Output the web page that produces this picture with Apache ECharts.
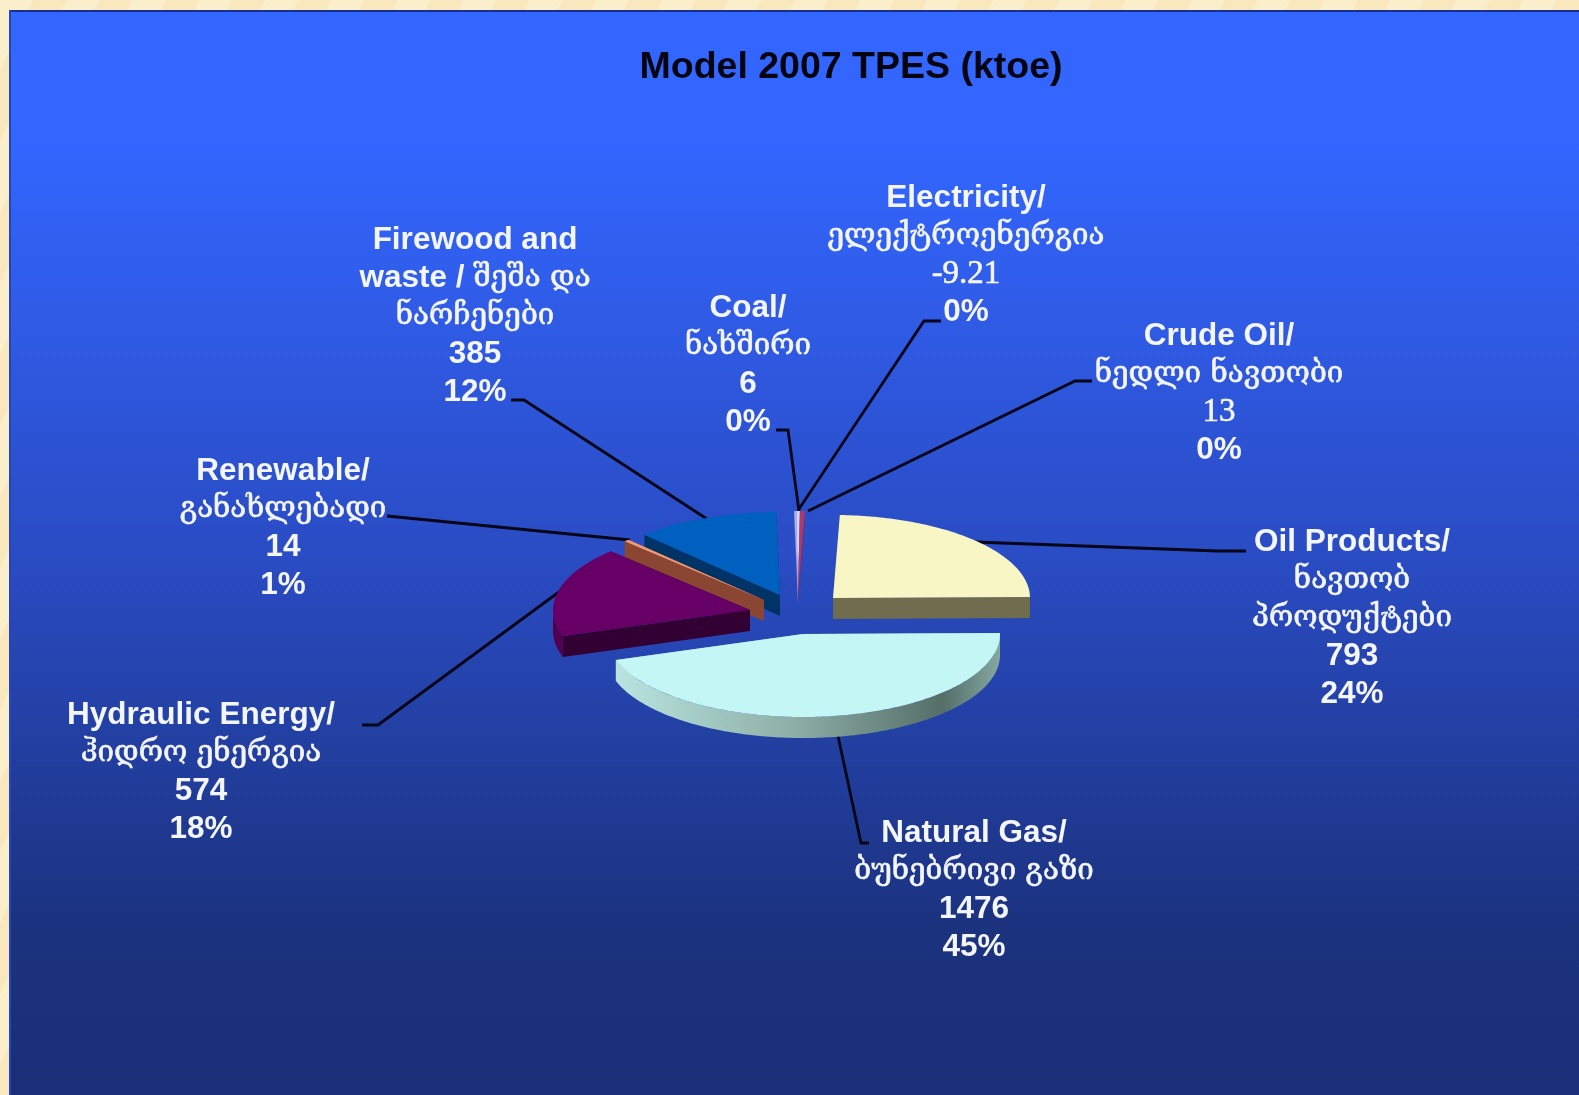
<!DOCTYPE html>
<html>
<head>
<meta charset="utf-8">
<style>
  html, body { margin: 0; height: 100%; overflow: hidden; }
  body { background: repeating-linear-gradient(115deg, #fbeecb 0 30px, #f9e8bd 30px 60px); }
  #chart { width: 1579px; height: 1095px; filter: blur(0.5px); }
</style>
<script src="https://cdn.jsdelivr.net/npm/echarts@6/dist/echarts.min.js"></script>
</head>
<body>
<div id="chart"></div>
<script>
// data
const categories = [
  'Oil Products/\nნავთობ\nპროდუქტები',
  'Natural Gas/\nბუნებრივი გაზი',
  'Hydraulic Energy/\nჰიდრო ენერგია',
  'Renewable/\nგანახლებადი',
  'Firewood and\nwaste / შეშა და\nნარჩენები',
  'Coal/\nნახშირი',
  'Electricity/\nელექტროენერგია',
  'Crude Oil/\nნედლი ნავთობი'
]
const values = [793, 1476, 574, 14, 385, 6, -9.21, 13]
const percents = [24, 45, 18, 1, 12, 0, 0, 0]

// layout: where each exploded slice and label sits
const apexes = [[833, 598], [803, 634], [750, 610], [764, 600], [780, 595], [798, 594], [798, 594], [798, 594]]
const depths = [21, 21, 21, 21, 21, 9, 9, 9]
const labelPos = [[1352, 618], [974, 890], [201, 772], [283, 528], [475, 316], [748, 365], [966, 255], [1219, 393]]
const leaders = [
  [[975, 542], [1218, 551], [1246, 551]],
  [[838, 736], [861, 843], [869, 843]],
  [[563, 589], [378, 725], [362, 725]],
  [[630, 540], [387, 516]],
  [[707, 519], [524, 400], [511, 400]],
  [[799, 511], [788, 430], [776, 430]],
  [[799, 509], [924, 321], [941, 321]],
  [[808, 511], [1075, 381], [1092, 381]]
]
const serifValue = [false, false, false, false, false, false, true, true]
const drawOrder = [5, 6, 7, 4, 3, 2, 0, 1]
const rx = 197
const ry = 83
const startAngle = 2

// colours
const topColors = ['#f8f6c4', '#c4f6f6', '#660066', '#f29a78', '#0060c0', '#b4b4ec', '#d4d4f6', '#a83a70']
const wallColors = ['#706c4e', '#8fb5ae', '#330033', '#8a4632', '#003366', '#8a8ac8', '#8a8ac8', '#802a58']
const gasArc = new echarts.graphic.LinearGradient(0, 0, 1, 0, [
  { offset: 0, color: '#b8e4e0' },
  { offset: 0.45, color: '#8fb0a8' },
  { offset: 0.85, color: '#546e68' },
  { offset: 1, color: '#86a8a2' }
])
const arcColors = ['#706c4e', gasArc, '#50004e', '#8a4632', '#003366', '#8a8ac8', '#8a8ac8', '#802a58']

const total = values.reduce((s, v) => s + Math.abs(v), 0)
const angles = []
let acc = startAngle
values.forEach(v => {
  const span = Math.abs(v) / total * 360
  angles.push([acc, acc + span])
  acc += span
})

function rimPoint(apex, deg, drop) {
  const r = deg * Math.PI / 180
  return [apex[0] + rx * Math.sin(r), apex[1] - ry * Math.cos(r) + (drop || 0)]
}

function arcPoints(apex, a0, a1, drop) {
  const pts = []
  const steps = Math.max(2, Math.ceil(a1 - a0))
  for (let k = 0; k <= steps; k++) {
    pts.push(rimPoint(apex, a0 + (a1 - a0) * k / steps, drop))
  }
  return pts
}

function renderSlice(params, api) {
  const i = api.value(0)
  const apex = apexes[i]
  const d = depths[i]
  const a0 = angles[i][0]
  const a1 = angles[i][1]
  const low = [apex[0], apex[1] + d]
  const children = []
  // radial walls, the top face hides whichever one looks away
  ;[a0, a1].forEach(a => {
    const out = rimPoint(apex, a)
    const outLow = rimPoint(apex, a, d)
    children.push({ type: 'polygon', shape: { points: [apex, out, outLow, low] }, style: { fill: wallColors[i] } })
  })
  // outer wall, only the front half of the ellipse
  const f0 = Math.max(a0, 90)
  const f1 = Math.min(a1, 270)
  if (f1 > f0) {
    const pts = arcPoints(apex, f0, f1, 0).concat(arcPoints(apex, f0, f1, d).reverse())
    children.push({ type: 'polygon', shape: { points: pts }, style: { fill: arcColors[i] } })
  }
  children.push({
    type: 'polygon',
    shape: { points: [apex].concat(arcPoints(apex, a0, a1, 0)) },
    style: { fill: topColors[i] }
  })
  return { type: 'group', children: children }
}

function renderLeader(params, api) {
  return {
    type: 'polyline',
    shape: { points: leaders[api.value(0)] },
    style: { stroke: '#020616', lineWidth: 2.8, fill: null }
  }
}

// georgian runs get the thinner face, the rest is bold
function richLine(line) {
  return line.split(/([\u10A0-\u10FF][\u10A0-\u10FF ]*)/).filter(s => s).map(s =>
    /[\u10A0-\u10FF]/.test(s) ? '{g|' + s + '}' : '{b|' + s + '}').join('')
}

function renderLabel(params, api) {
  const i = api.value(0)
  const lines = categories[i].split('\n').map(richLine)
  const tag = serifValue[i] ? 's' : 'b'
  lines.push('{' + tag + '|' + values[i] + '}')
  lines.push('{b|' + percents[i] + '%}')
  return {
    type: 'text',
    style: {
      text: lines.join('\n'),
      x: labelPos[i][0],
      y: labelPos[i][1],
      align: 'center',
      verticalAlign: 'middle',
      fill: '#fff',
      rich: {
        b: { font: 'bold 31.5px "Liberation Sans"', fill: '#f4f6ff', lineHeight: 38 },
        g: { font: '29.5px "DejaVu Serif", "DejaVu Sans"', fill: '#f4f6ff', lineHeight: 38, stroke: '#f4f6ff', lineWidth: 0.6 },
        s: { font: '33px "Liberation Serif"', fill: '#f4f6ff', lineHeight: 38, stroke: '#f4f6ff', lineWidth: 0.6 }
      }
    }
  }
}

const indexData = categories.map((c, i) => [i])
const chart = echarts.init(document.getElementById('chart'), null, { renderer: 'canvas' })
chart.setOption({
  animation: false,
  backgroundColor: 'transparent',
  title: {
    text: 'Model 2007 TPES (ktoe)',
    left: 846,
    top: 44,
    textAlign: 'center',
    textStyle: { color: '#050510', fontFamily: 'Liberation Sans', fontWeight: 'bold', fontSize: 37.5 }
  },
  graphic: [
    {
      type: 'rect', z: -10,
      shape: { x: 9, y: 10, width: 1570, height: 1085 },
      style: {
        fill: new echarts.graphic.LinearGradient(0, 0, 0, 1, [
          { offset: 0, color: '#3366ff' },
          { offset: 0.12, color: '#3366ff' },
          { offset: 0.5, color: '#2a4cc4' },
          { offset: 0.85, color: '#1b327e' },
          { offset: 1, color: '#1a2f78' }
        ])
      }
    },
    { type: 'rect', z: -9, shape: { x: 9, y: 10, width: 1570, height: 2 }, style: { fill: '#1a2f8c' } },
    { type: 'rect', z: -9, shape: { x: 9, y: 10, width: 2, height: 1085 }, style: { fill: '#2546b8' } }
  ],
  series: [
    { type: 'custom', coordinateSystem: 'none', silent: true, z: 2, data: indexData, renderItem: renderLeader },
    { type: 'custom', coordinateSystem: 'none', silent: true, z: 3, data: drawOrder.map(i => [i]), renderItem: renderSlice },
    { type: 'custom', coordinateSystem: 'none', silent: true, z: 4, data: indexData, renderItem: renderLabel }
  ]
})
</script>
</body>
</html>
